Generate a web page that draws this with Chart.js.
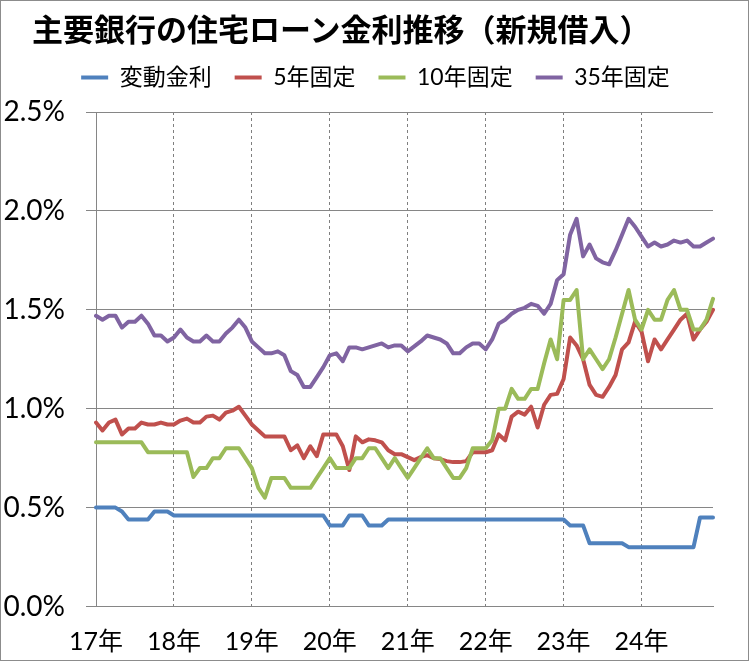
<!DOCTYPE html>
<html lang="ja">
<head>
<meta charset="UTF-8">
<title>主要銀行の住宅ローン金利推移</title>
<script src="https://cdn.jsdelivr.net/npm/chart.js"></script>
<style>
  body { margin: 0; background: #fff; }
  #wrap { position: relative; width: 749px; height: 661px; box-sizing: border-box; border: 1px solid #8c8c8c; }
  #wrap h1 {
    position: absolute; left: 31px; top: 11px; margin: 0;
    font: bold 31px/31px 'Noto Sans CJK JP', sans-serif; color: #000; white-space: nowrap;
  }
  canvas { display: block; }
</style>
</head>
<body>
<div id="wrap">
  <h1>主要銀行の住宅ローン金利推移（新規借入）</h1>
  <canvas id="chart" width="747" height="659"></canvas>
</div>
<script>
// year tick labels (one label per January)
const yearLabels = ['17年', '18年', '19年', '20年', '21年', '22年', '23年', '24年'];

// monthly rates (%), Jan 2017 - Dec 2024
const hendo = [
  0.50, 0.50, 0.50, 0.50, 0.48, 0.44, 0.44, 0.44, 0.44, 0.48, 0.48, 0.48,
  0.46, 0.46, 0.46, 0.46, 0.46, 0.46, 0.46, 0.46, 0.46, 0.46, 0.46, 0.46,
  0.46, 0.46, 0.46, 0.46, 0.46, 0.46, 0.46, 0.46, 0.46, 0.46, 0.46, 0.46,
  0.41, 0.41, 0.41, 0.46, 0.46, 0.46, 0.41, 0.41, 0.41, 0.44, 0.44, 0.44,
  0.44, 0.44, 0.44, 0.44, 0.44, 0.44, 0.44, 0.44, 0.44, 0.44, 0.44, 0.44,
  0.44, 0.44, 0.44, 0.44, 0.44, 0.44, 0.44, 0.44, 0.44, 0.44, 0.44, 0.44,
  0.44, 0.41, 0.41, 0.41, 0.32, 0.32, 0.32, 0.32, 0.32, 0.32, 0.30, 0.30,
  0.30, 0.30, 0.30, 0.30, 0.30, 0.30, 0.30, 0.30, 0.30, 0.45, 0.45, 0.45
];
const kotei5 = [
  0.93, 0.89, 0.93, 0.945, 0.87, 0.90, 0.90, 0.93, 0.92, 0.92, 0.93, 0.92,
  0.92, 0.94, 0.95, 0.93, 0.93, 0.96, 0.965, 0.945, 0.98, 0.99, 1.01, 0.965,
  0.92, 0.89, 0.86, 0.86, 0.86, 0.86, 0.79, 0.815, 0.75, 0.81, 0.76, 0.87,
  0.87, 0.87, 0.81, 0.69, 0.86, 0.83, 0.845, 0.84, 0.83, 0.79, 0.77, 0.77,
  0.755, 0.74, 0.755, 0.765, 0.75, 0.745, 0.735, 0.73, 0.73, 0.735, 0.78, 0.78,
  0.78, 0.79, 0.87, 0.84, 0.96, 0.985, 0.97, 1.01, 0.905, 1.02, 1.07, 1.075,
  1.15, 1.36, 1.32, 1.25, 1.12, 1.07, 1.06, 1.11, 1.17, 1.30, 1.335, 1.44,
  1.39, 1.24, 1.35, 1.30, 1.35, 1.40, 1.45, 1.48, 1.35, 1.40, 1.44, 1.50
];
const kotei10 = [
  0.83, 0.83, 0.83, 0.83, 0.83, 0.83, 0.83, 0.83, 0.78, 0.78, 0.78, 0.78,
  0.78, 0.78, 0.78, 0.655, 0.70, 0.70, 0.75, 0.75, 0.80, 0.80, 0.80, 0.75,
  0.70, 0.60, 0.55, 0.65, 0.65, 0.65, 0.60, 0.60, 0.60, 0.60, 0.65, 0.70,
  0.75, 0.70, 0.70, 0.70, 0.75, 0.75, 0.80, 0.80, 0.75, 0.70, 0.75, 0.70,
  0.65, 0.70, 0.75, 0.80, 0.75, 0.75, 0.70, 0.65, 0.65, 0.70, 0.80, 0.80,
  0.80, 0.84, 1.00, 1.00, 1.10, 1.05, 1.05, 1.10, 1.10, 1.23, 1.35, 1.25,
  1.55, 1.55, 1.60, 1.25, 1.30, 1.25, 1.20, 1.25, 1.36, 1.48, 1.60, 1.45,
  1.40, 1.50, 1.45, 1.45, 1.55, 1.60, 1.50, 1.50, 1.40, 1.40, 1.45, 1.555
];
const kotei35 = [
  1.47, 1.45, 1.47, 1.47, 1.41, 1.44, 1.44, 1.47, 1.43, 1.37, 1.37, 1.34,
  1.36, 1.40, 1.36, 1.34, 1.34, 1.37, 1.34, 1.34, 1.38, 1.41, 1.45, 1.41,
  1.34, 1.31, 1.28, 1.28, 1.29, 1.27, 1.19, 1.17, 1.11, 1.11, 1.16, 1.21,
  1.27, 1.28, 1.24, 1.31, 1.31, 1.30, 1.31, 1.32, 1.33, 1.31, 1.32, 1.32,
  1.29, 1.315, 1.34, 1.37, 1.36, 1.35, 1.33, 1.28, 1.28, 1.31, 1.33, 1.33,
  1.30, 1.35, 1.43, 1.45, 1.48, 1.50, 1.51, 1.53, 1.52, 1.48, 1.53, 1.65,
  1.68, 1.88, 1.96, 1.77, 1.83, 1.76, 1.74, 1.73, 1.80, 1.88, 1.96, 1.92,
  1.87, 1.82, 1.84, 1.82, 1.83, 1.85, 1.84, 1.85, 1.82, 1.82, 1.84, 1.86
];

const months = [];
yearLabels.forEach(y => {
  for (let m = 1; m <= 12; m++) months.push(y + m + '月');
});

const textFont = "Lato, 'Noto Sans CJK JP', sans-serif";

function series(label, data, color, order) {
  return {
    label: label,
    data: data,
    borderColor: color,
    backgroundColor: color,
    borderWidth: 4,
    pointRadius: 0,
    tension: 0,
    borderJoinStyle: 'round',
    borderCapStyle: 'round',
    order: order
  };
}

// leave some room between the legend and the plot
const legendGap = {
  id: 'legendGap',
  beforeLayout(chart) {
    const lg = chart.legend;
    if (lg && !lg._gapAdded) {
      const fit = lg.fit;
      lg.fit = function () { fit.call(this); this.height += 13; };
      lg._gapAdded = true;
    }
  }
};

new Chart(document.getElementById('chart'), {
  type: 'line',
  data: {
    labels: months,
    datasets: [
      series('変動金利', hendo, '#4F81BD', 4),
      series('5年固定', kotei5, '#C0504D', 3),
      series('10年固定', kotei10, '#9BBB59', 2),
      series('35年固定', kotei35, '#8064A2', 1)
    ]
  },
  options: {
    responsive: false,
    animation: false,
    devicePixelRatio: 1,
    layout: { padding: { top: 42, left: 2, right: 0, bottom: 0 } },
    plugins: {
      title: { display: false },
      legend: {
        position: 'top',
        labels: {
          usePointStyle: true,
          pointStyle: 'line',
          pointStyleWidth: 27,
          padding: 23,
          color: '#000',
          font: { family: textFont, size: 23 },
          sort: (a, b) => a.datasetIndex - b.datasetIndex
        }
      },
      tooltip: { enabled: false }
    },
    scales: {
      x: {
        grid: {
          color: c => (c.index > 0 && c.index % 12 === 0) ? '#7f7f7f' : 'rgba(0,0,0,0)',
          lineWidth: 1,
          drawTicks: false
        },
        border: { display: true, color: '#868686', dash: [3, 3] },
        ticks: {
          autoSkip: false,
          maxRotation: 0,
          minRotation: 0,
          padding: 20.5,
          color: '#000',
          font: { family: textFont, size: 25 },
          callback: (v, i) => i % 12 === 0 ? yearLabels[i / 12] : ''
        },
        afterFit: s => { s.height = 53.5; s.paddingRight = 35; }
      },
      y: {
        min: 0,
        max: 2.5,
        grid: { color: '#868686', tickColor: '#868686', tickLength: 10 },
        border: { display: true, color: '#868686' },
        ticks: {
          stepSize: 0.5,
          padding: 21,
          color: '#000',
          font: { family: textFont, size: 28 },
          callback: v => v.toFixed(1) + '%'
        },
        afterFit: s => { s.width = 93; }
      }
    }
  },
  plugins: [legendGap]
});
</script>
</body>
</html>
